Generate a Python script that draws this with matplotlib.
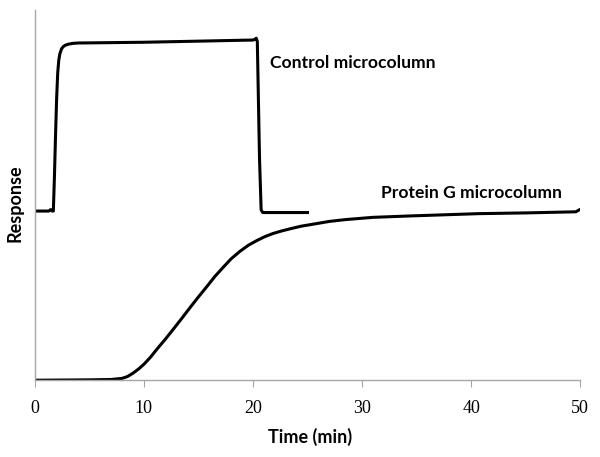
import matplotlib.pyplot as plt

# Control microcolumn trace (time in min, response in arbitrary units)
control_t = [0.1, 1.3, 1.45, 1.6, 1.7, 1.8, 1.9, 2.0, 2.1, 2.2, 2.3, 2.45, 2.6, 2.8, 3.1, 3.5, 4.0,
             10.0, 15.0, 20.0, 20.2, 20.3, 20.4, 20.6, 20.75, 20.9, 25.0]
control_y = [0.457, 0.457, 0.461, 0.457, 0.457, 0.55, 0.66, 0.76, 0.83, 0.865, 0.882, 0.895,
             0.901, 0.905, 0.908, 0.910, 0.911,
             0.913, 0.916, 0.919, 0.921, 0.924, 0.915, 0.60, 0.46, 0.453, 0.453]

# Protein G microcolumn trace
protein_t = [0.0, 5.0, 7.0, 8.0, 8.5, 9.0, 9.5, 10.0, 10.6, 11.2, 12.0, 12.7, 13.5, 14.2, 15.0,
             15.8, 16.5, 17.3, 18.0, 18.8, 19.6, 20.4, 21.1, 21.8, 22.6, 23.4, 24.4, 25.4,
             27.0, 28.5, 31.0, 34.6, 40.7, 45.0, 49.6, 49.9]
protein_y = [0.0, 0.001, 0.002, 0.005, 0.010, 0.019, 0.030, 0.043, 0.062, 0.084, 0.112, 0.138,
             0.168, 0.195, 0.225, 0.254, 0.280, 0.306, 0.328, 0.348, 0.365, 0.378, 0.388, 0.396,
             0.403, 0.409, 0.416, 0.421, 0.429, 0.434, 0.440, 0.444, 0.450, 0.452, 0.455, 0.460]

xticks = [0, 10, 20, 30, 40, 50]

fig = plt.figure(figsize=(6, 4.57), dpi=100)
ax = fig.add_axes([0.058, 0.168, 0.909, 0.81])

ax.plot(control_t, control_y, color='black', lw=2.2, solid_joinstyle='round')
ax.plot(protein_t, protein_y, color='black', lw=2.2, solid_joinstyle='round')

ax.set_xlim(0, 50)
ax.set_ylim(0, 1.0)
ax.set_xticks(xticks)
ax.set_yticks([])

for side in ['top', 'right']:
    ax.spines[side].set_visible(False)
for side in ['left', 'bottom']:
    ax.spines[side].set_color('#a6a6a6')
    ax.spines[side].set_linewidth(1.0)

ax.tick_params(axis='x', direction='out', length=5, color='#a6a6a6', pad=9)
for lab in ax.get_xticklabels():
    lab.set_fontfamily('Liberation Serif')
    lab.set_fontsize(13)

# labels
fig.text(310 / 600, 1 - 437 / 457, 'Time (min)', ha='center', va='center',
         fontsize=13, fontweight='bold', family='Lato')
fig.text(15 / 600, 1 - 203 / 457, 'Response', ha='center', va='center', rotation=90,
         fontsize=13, fontweight='bold', family='Lato')

ax.text(21.6, 0.858, 'Control microcolumn', ha='left', va='center',
        fontsize=12.6, fontweight='bold', family='Lato')
ax.text(31.7, 0.507, 'Protein G microcolumn', ha='left', va='center',
        fontsize=12.6, fontweight='bold', family='Lato')

fig.savefig('out.png', dpi=100)
